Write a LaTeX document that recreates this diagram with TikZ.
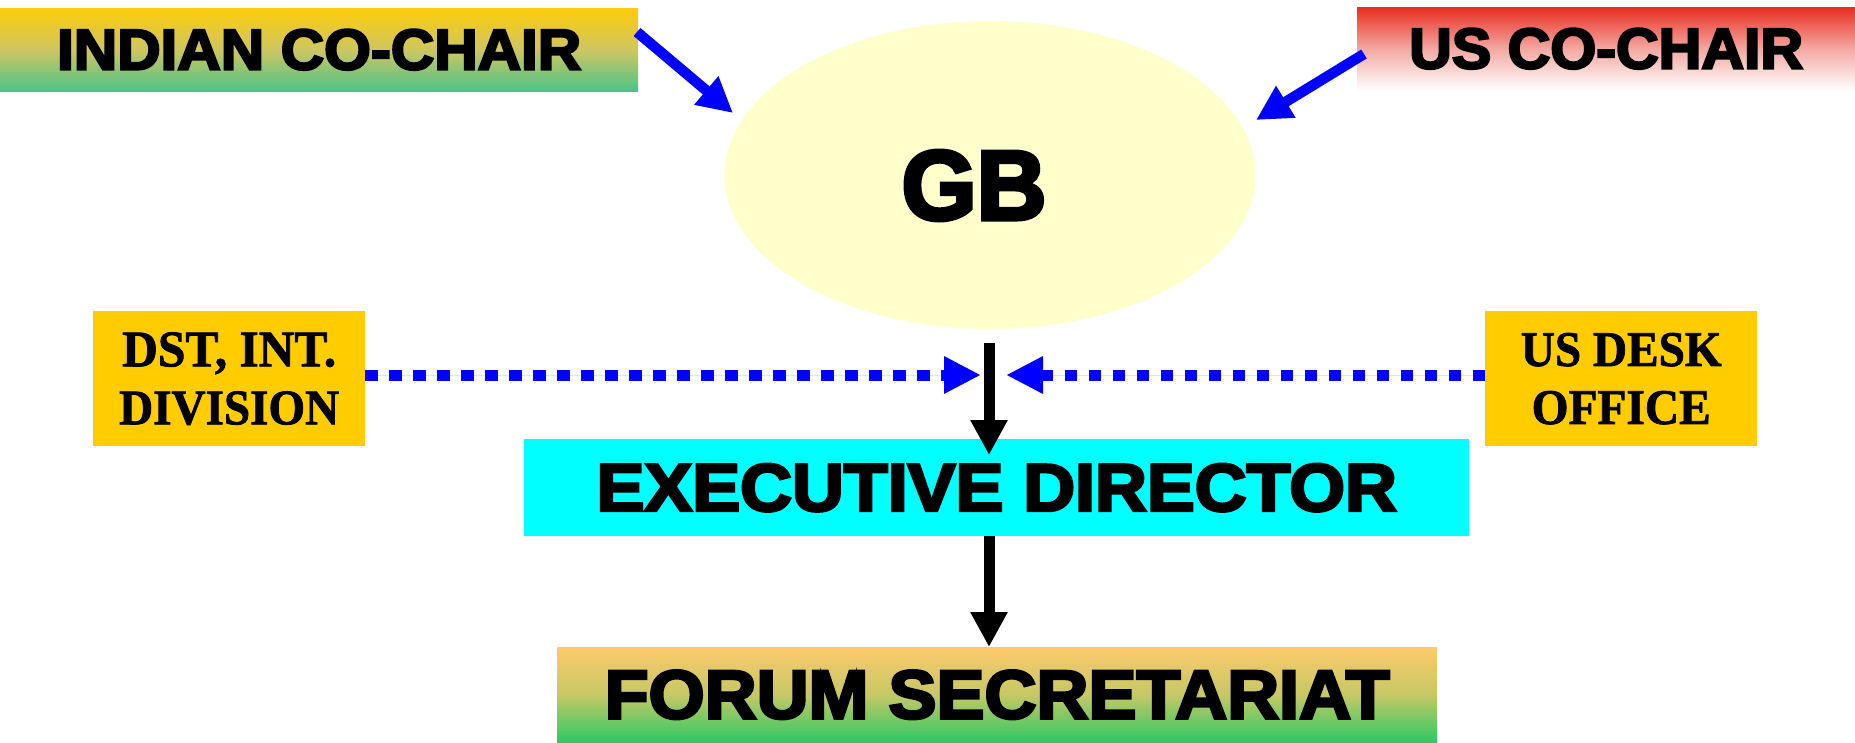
\documentclass[tikz,border=0pt]{standalone}
\usepackage{graphicx}
\usepackage{fontspec}
\usetikzlibrary{arrows.meta,shapes.geometric}

% Heavy sans for the chart titles, condensed bold serif for the side offices
\newfontfamily\heavy{Liberation Sans Bold}[FakeBold=4]
\newfontfamily\officeserif{Liberation Serif Bold}[FakeBold=1.5]

% Text fitted to a given width and cap height
\newcommand{\fitto}[3]{\resizebox{#1pt}{#2pt}{#3}}

\definecolor{indyellow}{RGB}{253,204,10}
\definecolor{indmid}{RGB}{206,198,98}
\definecolor{indgreen}{RGB}{76,195,137}
\definecolor{usred}{RGB}{234,45,33}
\definecolor{uspink}{RGB}{243,168,162}
\definecolor{gbyellow}{RGB}{255,255,204}
\definecolor{officegold}{RGB}{255,204,0}
\definecolor{edcyan}{RGB}{0,255,255}
\definecolor{forumtop}{RGB}{252,202,106}
\definecolor{forummid}{RGB}{198,200,102}
\definecolor{forumbot}{RGB}{44,201,100}
\definecolor{linkblue}{RGB}{0,0,255}

\begin{document}
\begin{tikzpicture}[x=1pt,y=-1pt,
  panel/.style={rectangle, inner sep=0pt, anchor=north west},
  office/.style={panel, fill=officegold, minimum width=272pt, minimum height=135pt,
    align=center, font=\officeserif\fontsize{30}{58}\selectfont},
  bluelink/.style={draw=linkblue, line width=10.5pt,
    -{Triangle[length=35pt,width=35pt]}, fill=linkblue},
  dotlink/.style={draw=linkblue, line width=11pt, dash pattern=on 12.5pt off 11.5pt,
    -{Triangle[length=37pt,width=35pt]}, fill=linkblue},
  blacklink/.style={draw=black, line width=11pt,
    -{Triangle[length=35pt,width=35pt]}, fill=black}]

\useasboundingbox (0,0) rectangle (1855,742);

% Co-chairs
\node[panel, minimum width=638pt, minimum height=83pt,
  top color=indyellow, bottom color=indgreen, middle color=indmid]
  (indian) at (0,8) {\heavy\fitto{524}{40}{INDIAN CO-CHAIR}};
\node[panel, minimum width=498pt, minimum height=83pt,
  top color=usred, bottom color=white, middle color=uspink]
  (us) at (1357,7) {\heavy\fitto{394}{40}{US CO-CHAIR}};

% Governing board
\node[ellipse, fill=gbyellow, inner sep=0pt, minimum width=531pt, minimum height=308pt,
  label={[font=\heavy, xshift=-16pt, yshift=-10.5pt]center:\fitto{145}{69}{GB}}]
  (gb) at (990,175) {};

% Side offices
\node[office] (dst) at (93,311)
  {\fitto{214}{34}{DST, INT.}\\\fitto{220}{33}{DIVISION}};
\node[office] (desk) at (1485,311)
  {\fitto{201}{33}{US DESK}\\\fitto{179}{33}{OFFICE}};

% Executive director and secretariat
\node[panel, fill=edcyan, minimum width=945pt, minimum height=97pt]
  (ed) at (524,439) {\heavy\fitto{800}{47}{EXECUTIVE DIRECTOR}};
\node[panel, minimum width=880pt, minimum height=95pt,
  top color=forumtop, bottom color=forumbot, middle color=forummid]
  (forum) at (557,647) {\heavy\fitto{785}{48}{FORUM SECRETARIAT}};

% Connector end points
\coordinate (indtail) at (637,32);
\coordinate (indtip) at (733,113);
\coordinate (ustail) at (1364,54);
\coordinate (ustip) at (1256,120);
\coordinate (axis) at (989,0);
\coordinate (edtop) at (989,343);
\coordinate (edtip) at (989,455);
\coordinate (lefttip) at (981,375);
\coordinate (righttip) at (1006,375);

% Co-chairs into the board
\draw[bluelink] (indtail) -- (indtip);
\draw[bluelink] (ustail) -- (ustip);

% Offices feeding the line to the director
\draw[dotlink] (dst.east |- lefttip) -- (lefttip);
\draw[dotlink] (desk.west |- righttip) -- (righttip);

% Board to director, director to secretariat
\draw[blacklink] (edtop) -- (edtip);
\draw[blacklink] (ed.south -| axis) -- (forum.north -| axis);

\end{tikzpicture}
\end{document}
